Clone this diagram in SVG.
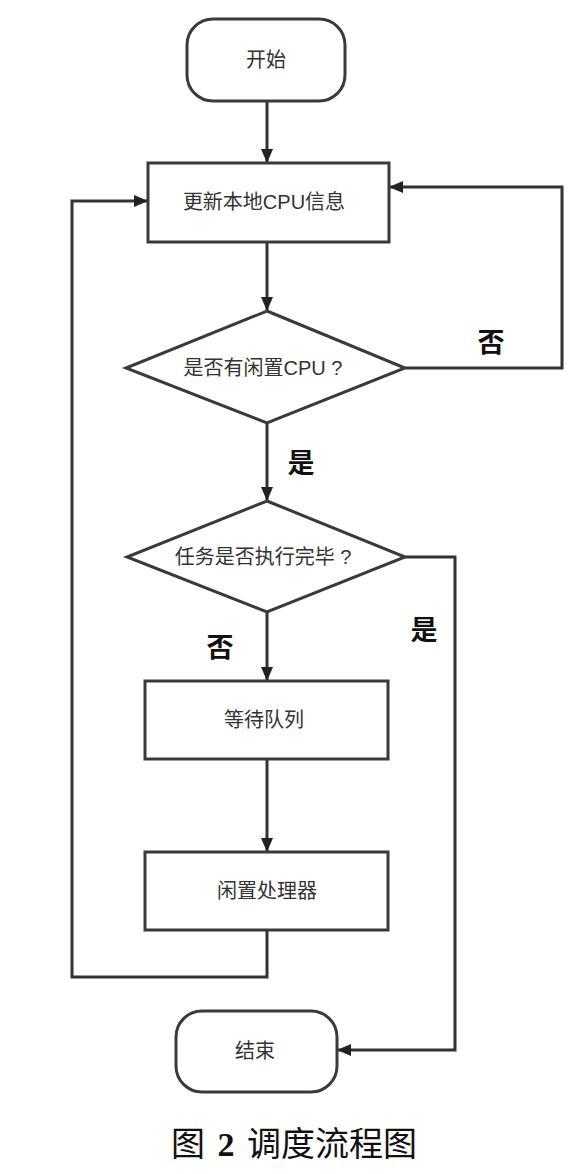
<svg xmlns="http://www.w3.org/2000/svg" width="588" height="1174" viewBox="0 0 588 1174">
<style>
.shape{fill:#fff;stroke:#3a3a3a;stroke-width:3}
.lbl{font-family:"Liberation Sans","Noto Sans CJK SC",sans-serif;font-size:20px;fill:#333;text-anchor:middle;dominant-baseline:central}
.edge{fill:none;stroke:#333;stroke-width:3}
.elbl{font-family:"Noto Sans CJK SC",sans-serif;font-size:27px;font-weight:bold;fill:#111;text-anchor:middle;dominant-baseline:central}
.cap{font-family:"Liberation Serif","Noto Sans CJK SC",serif;font-size:34px;fill:#111;text-anchor:middle;word-spacing:4px}
</style>
<defs>
<marker id="ah" markerUnits="userSpaceOnUse" markerWidth="14" markerHeight="12" refX="13" refY="6" orient="auto">
<path d="M0,0 L14,6 L0,12 Z" fill="#222"/>
</marker>
</defs>
<rect width="588" height="1174" fill="#fff"/>
<g id="connectors">
<path class="edge" d="M267,101 V162" marker-end="url(#ah)"/>
<path class="edge" d="M267,242 V310" marker-end="url(#ah)"/>
<path class="edge" d="M405,368 H562 V187 H390" marker-end="url(#ah)"/>
<path class="edge" d="M267,423 V500" marker-end="url(#ah)"/>
<path class="edge" d="M405,557 H455 V1050 H338" marker-end="url(#ah)"/>
<path class="edge" d="M267,612 V680" marker-end="url(#ah)"/>
<path class="edge" d="M267,759 V851" marker-end="url(#ah)"/>
<path class="edge" d="M267,930 V977 H72 V201 H147" marker-end="url(#ah)"/>
<text class="elbl" x="491" y="340">否</text>
<text class="elbl" x="301" y="461">是</text>
<text class="elbl" x="424" y="628">是</text>
<text class="elbl" x="220" y="645">否</text>
</g>
<g id="start">
<rect class="shape" x="187" y="19" width="158" height="82" rx="26"/>
<text class="lbl" x="266" y="60">开始</text>
</g>
<g id="update">
<rect class="shape" x="148" y="163" width="241" height="79"/>
<text class="lbl" x="264" y="202">更新本地CPU信息</text>
</g>
<g id="idle-check">
<polygon class="shape" points="267,311 405,368 267,423 126,368"/>
<text class="lbl" x="263" y="368">是否有闲置CPU ?</text>
</g>
<g id="task-check">
<polygon class="shape" points="267,501 405,557 267,612 127,557"/>
<text class="lbl" x="263" y="557">任务是否执行完毕 ?</text>
</g>
<g id="wait-queue">
<rect class="shape" x="145" y="681" width="243" height="78"/>
<text class="lbl" x="264" y="720">等待队列</text>
</g>
<g id="idle-proc">
<rect class="shape" x="145" y="852" width="243" height="78"/>
<text class="lbl" x="267" y="891">闲置处理器</text>
</g>
<g id="end">
<rect class="shape" x="176" y="1011" width="161" height="81" rx="26"/>
<text class="lbl" x="255" y="1051">结束</text>
</g>
<text class="cap" x="294" y="1156">图 <tspan font-weight="bold">2</tspan> 调度流程图</text>
</svg>
